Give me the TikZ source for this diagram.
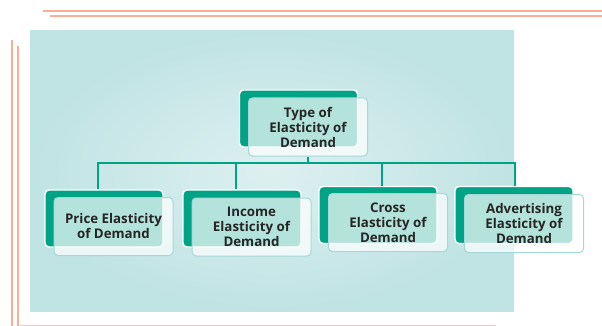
\documentclass[tikz,border=0pt]{standalone}
\usepackage{fontspec}
\setmainfont{Open Sans}
\definecolor{bgteal}{HTML}{C0E3E4}
\definecolor{bglight}{HTML}{DDF0F0}
\definecolor{boxgreen}{HTML}{00A386}
\definecolor{rimteal}{HTML}{A6D8D8}
\definecolor{framered}{HTML}{FBAE93}
\definecolor{framepale}{HTML}{F8C6B8}
\definecolor{inkgray}{HTML}{262626}
\tikzset{
  backbox/.style={draw=white, line width=1.4pt, fill=boxgreen, rounded corners=4pt,
    minimum width=118pt, minimum height=57pt, inner sep=0pt},
  frontbox/.style={draw=rimteal, line width=1pt, fill=white, fill opacity=0.7,
    text opacity=1, rounded corners=4pt, minimum width=119pt, minimum height=58pt,
    inner sep=0pt, align=center, text=inkgray,
    font=\bfseries\fontsize{13.3}{15}\selectfont},
  link/.style={draw=boxgreen, line width=1.5pt},
  frameline/.style={draw=framered, line width=2pt}
}
\begin{document}
\begin{tikzpicture}[x=1pt, y=-1pt]
  \useasboundingbox (0,0) rectangle (602,326);

  % frame lines
  \draw[frameline] (43,11) -- (602,11);
  \draw[frameline] (50,16.5) -- (602,16.5);
  \draw[frameline] (11.8,40) -- (11.8,326);
  \draw[frameline] (18.2,46) -- (18.2,326);
  \draw[draw=framepale, line width=1pt] (19.5,325) -- (496,325);

  % backdrop
  \shade[inner color=bglight, outer color=bgteal] (30,31) rectangle (514,311);

  % top box
  \node[backbox] (type-back) at (298.5,118.5) {};
  \node[frontbox] (type) at (308,127) {Type of\\Elasticity of\\Demand};

  % lower boxes
  \node[backbox] (price-back) at (104,218.5) {};
  \node[frontbox] (price) at (113.5,226.5) {Price Elasticity\\of Demand};

  \node[backbox] (income-back) at (242,218.5) {};
  \node[frontbox] (income) at (251.5,227) {Income\\Elasticity of\\Demand};

  \node[backbox] (cross-back) at (378,215) {};
  \node[frontbox] (cross) at (388,222.5) {Cross\\Elasticity of\\Demand};

  \node[backbox] (advert-back) at (514,215) {};
  \node[frontbox] (advert) at (524,223.5) {Advertising\\Elasticity of\\Demand};

  % connectors
  \coordinate (busL) at (97,163);
  \coordinate (busR) at (516,163);
  \draw[link] (busL) -- (busR);
  \draw[link] (type.south) -- (type.south |- busL);
  \foreach \n/\dx in {price/-6, income/-6, cross/4, advert/1}
    \draw[link] ([xshift=\dx pt]\n-back.north |- busL) -- ([xshift=\dx pt]\n-back.north);
\end{tikzpicture}
\end{document}
